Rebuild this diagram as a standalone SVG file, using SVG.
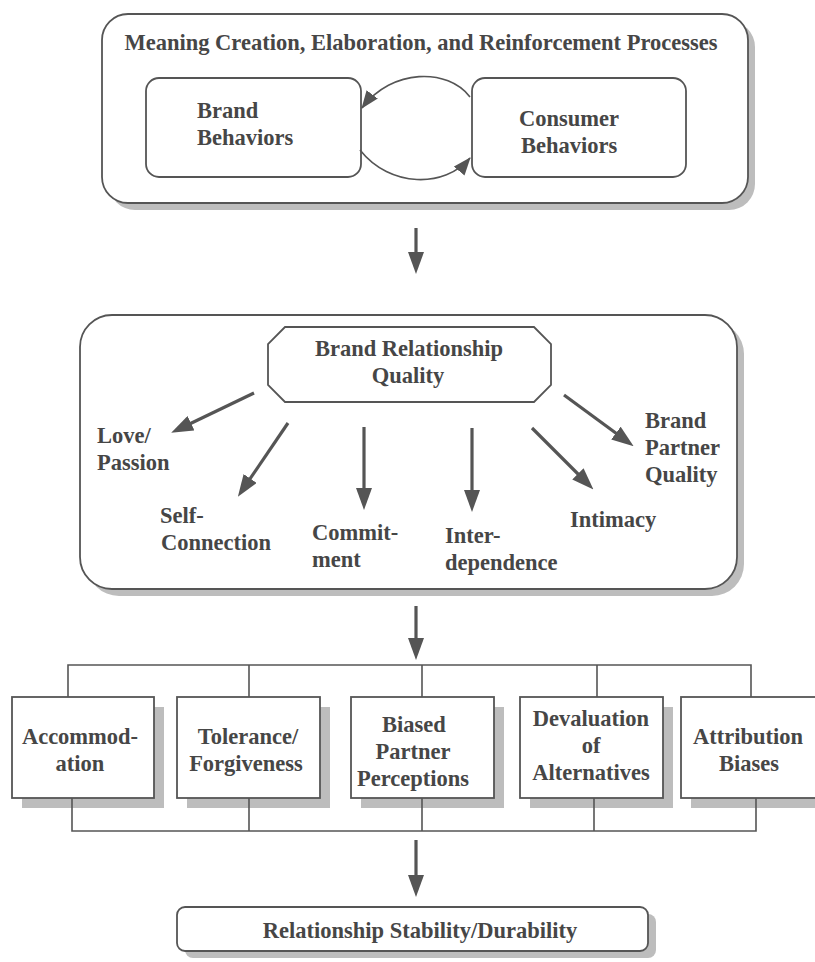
<svg xmlns="http://www.w3.org/2000/svg" width="815" height="962" viewBox="0 0 815 962">
<style>
text{font-family:"Liberation Serif","Times New Roman",serif;font-weight:bold;fill:#464646;font-size:22.5px}
.c{text-anchor:middle}
.box{fill:#fff;stroke:#555;stroke-width:1.8}
.sh{fill:#bdbdbd}
.ln{fill:none;stroke:#555;stroke-width:1.6}
.ar{fill:none;stroke:#555;stroke-width:3.2}
.arc{fill:none;stroke:#555;stroke-width:1.6}
</style>
<defs>
<marker id="ah" markerUnits="userSpaceOnUse" markerWidth="22" markerHeight="16" refX="15" refY="8" orient="auto"><path d="M0,0 L22,8 L0,16 z" fill="#555"/></marker>
<marker id="ahs" markerUnits="userSpaceOnUse" markerWidth="18" markerHeight="14" refX="17" refY="7" orient="auto"><path d="M0,0 L18,7 L0,14 z" fill="#555"/></marker>
</defs>
<rect width="815" height="962" fill="#fff"/>
<g id="meaning-processes">
<rect class="sh" x="109" y="21" width="646" height="189" rx="26"/>
<rect class="box" x="102" y="14" width="646" height="189" rx="26"/>
<text class="c" x="421" y="50" font-size="23.3">Meaning Creation, Elaboration, and Reinforcement Processes</text>
</g>
<g id="brand-behaviors">
<rect class="box" x="146" y="78" width="215" height="99" rx="13"/>
<text x="197" y="118">Brand</text>
<text x="197" y="145">Behaviors</text>
</g>
<g id="consumer-behaviors">
<rect class="box" x="472" y="78" width="214" height="99" rx="13"/>
<text x="519" y="126">Consumer</text>
<text x="521" y="153">Behaviors</text>
</g>
<g id="relationship-quality-panel">
<rect class="sh" x="87" y="322" width="657" height="274" rx="32"/>
<rect class="box" x="80" y="315" width="657" height="274" rx="32"/>
</g>
<g id="brand-relationship-quality">
<polygon class="box" points="285,327 534,327 551,344 551,385 534,402 285,402 268,385 268,344"/>
<text class="c" x="409" y="356">Brand Relationship</text>
<text class="c" x="408" y="383">Quality</text>
</g>
<g id="love-passion"><text x="97" y="443">Love/</text><text x="97" y="470">Passion</text></g>
<g id="self-connection"><text x="160" y="523">Self-</text><text x="161" y="550">Connection</text></g>
<g id="commitment"><text x="312" y="540">Commit-</text><text x="312" y="567">ment</text></g>
<g id="interdependence"><text x="445" y="543">Inter-</text><text x="445" y="570">dependence</text></g>
<g id="intimacy"><text x="570" y="527">Intimacy</text></g>
<g id="brand-partner-quality"><text x="645" y="428">Brand</text><text x="645" y="455">Partner</text><text x="645" y="482">Quality</text></g>
<g id="accommodation">
<rect class="sh" x="22" y="707" width="142" height="101"/>
<rect class="box" x="12" y="697" width="142" height="101"/>
<text class="c" x="80" y="744">Accommod-</text><text class="c" x="80" y="771">ation</text>
</g>
<g id="tolerance-forgiveness">
<rect class="sh" x="187" y="707" width="143" height="101"/>
<rect class="box" x="177" y="697" width="143" height="101"/>
<text class="c" x="248" y="744">Tolerance/</text><text class="c" x="246" y="771">Forgiveness</text>
</g>
<g id="biased-partner-perceptions">
<rect class="sh" x="361" y="707" width="143" height="101"/>
<rect class="box" x="351" y="697" width="143" height="101"/>
<text class="c" x="414" y="732">Biased</text><text class="c" x="413" y="759">Partner</text><text class="c" x="413" y="786">Perceptions</text>
</g>
<g id="devaluation-of-alternatives">
<rect class="sh" x="530" y="707" width="143" height="101"/>
<rect class="box" x="520" y="697" width="143" height="101"/>
<text class="c" x="591" y="726">Devaluation</text><text class="c" x="591" y="753">of</text><text class="c" x="591" y="780">Alternatives</text>
</g>
<g id="attribution-biases">
<rect class="sh" x="691" y="707" width="143" height="101"/>
<rect class="box" x="681" y="697" width="143" height="101"/>
<text class="c" x="748" y="744">Attribution</text><text class="c" x="749" y="771">Biases</text>
</g>
<g id="relationship-stability">
<rect class="sh" x="185" y="914" width="471" height="44" rx="8"/>
<rect class="box" x="177" y="907" width="471" height="44" rx="8"/>
<text class="c" x="420" y="938" font-size="25.5">Relationship Stability/Durability</text>
</g>
<g id="connectors">
<path class="arc" d="M470,97 C448,68 392,68 362,108" marker-end="url(#ahs)"/>
<path class="arc" d="M360,150 C390,188 445,188 470,158" marker-end="url(#ahs)"/>
<line class="ar" x1="416" y1="228" x2="416" y2="267" marker-end="url(#ah)"/>
<line class="ar" x1="254" y1="393" x2="177.5" y2="429.8" marker-end="url(#ah)"/>
<line class="ar" x1="288" y1="423" x2="241.8" y2="490.9" marker-end="url(#ah)"/>
<line class="ar" x1="364" y1="427" x2="364" y2="503" marker-end="url(#ah)"/>
<line class="ar" x1="472" y1="428" x2="472" y2="505" marker-end="url(#ah)"/>
<line class="ar" x1="532" y1="428" x2="588.5" y2="484.5" marker-end="url(#ah)"/>
<line class="ar" x1="564" y1="395" x2="628" y2="442" marker-end="url(#ah)"/>
<line class="ar" x1="416" y1="606" x2="416" y2="653" marker-end="url(#ah)"/>
<path class="ln" d="M68,697 V665 H751 V697 M249,665 V697 M422,665 V697 M597,665 V697"/>
<path class="ln" d="M72,798 V831 H756 V798 M249,798 V831 M422,798 V831 M594,798 V831"/>
<line class="ar" x1="416" y1="840" x2="416" y2="890" marker-end="url(#ah)"/>
</g>
</svg>
